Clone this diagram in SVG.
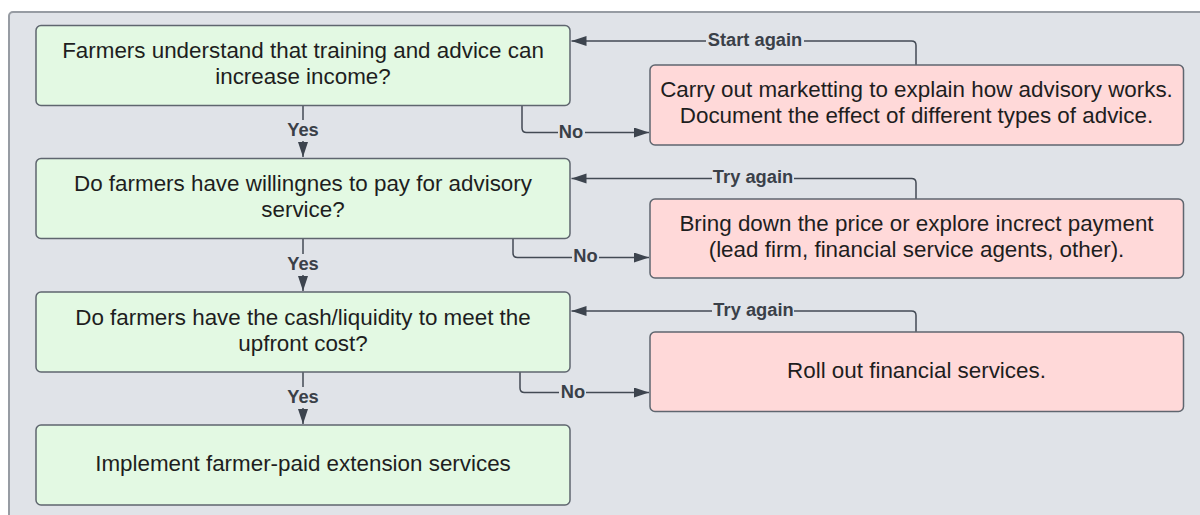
<svg xmlns="http://www.w3.org/2000/svg" width="1200" height="515" viewBox="0 0 1200 515">
  <defs>
    <style>
      .panel { fill: #e0e3e8; stroke: #979ca3; stroke-width: 2; }
      .yes { fill: #e3f9e3; stroke: #5f666f; stroke-width: 1.5; }
      .no { fill: #ffd9d9; stroke: #5f666f; stroke-width: 1.5; }
      .t { font-family: "Liberation Sans", Arial, sans-serif; font-size: 22.4px; fill: #1e1e1e; text-anchor: middle; }
      .c { fill: none; stroke: #434a54; stroke-width: 1.5; }
      .lbl { font-family: "Liberation Sans", Arial, sans-serif; font-size: 18.3px; font-weight: bold; fill: #3a4048; text-anchor: middle; }
      .lbg { fill: #e0e3e8; }
    </style>
    <marker id="ah" markerUnits="userSpaceOnUse" markerWidth="16" markerHeight="11" refX="15" refY="5" orient="auto">
      <path d="M0,0 L15,5 L0,10 z" fill="#3d444e"/>
    </marker>
  </defs>
  <rect width="1200" height="515" fill="#ffffff"/>
  <rect class="panel" x="9" y="12" width="1205" height="520" rx="4"/>

  <g id="connectors">
    <path class="c" d="M303 105.5 V157" marker-end="url(#ah)"/>
    <path class="c" d="M303 238.5 V291" marker-end="url(#ah)"/>
    <path class="c" d="M303 372 V424" marker-end="url(#ah)"/>
    <path class="c" d="M522 105.5 V128 Q522 132.5 526.5 132.5 H649" marker-end="url(#ah)"/>
    <path class="c" d="M513 238.5 V253 Q513 257.5 517.5 257.5 H649" marker-end="url(#ah)"/>
    <path class="c" d="M520 372 V388 Q520 392.5 524.5 392.5 H649" marker-end="url(#ah)"/>
    <path class="c" d="M916 65 V45.5 Q916 41 911.5 41 H571.5" marker-end="url(#ah)"/>
    <path class="c" d="M916 199 V183 Q916 178.5 911.5 178.5 H571.5" marker-end="url(#ah)"/>
    <path class="c" d="M916 332 V315.5 Q916 311 911.5 311 H571.5" marker-end="url(#ah)"/>
    <rect class="lbg" x="285" y="120" width="36" height="21"/>
    <text class="lbl" x="303" y="136">Yes</text>
    <rect class="lbg" x="285" y="254" width="36" height="21"/>
    <text class="lbl" x="303" y="269.5">Yes</text>
    <rect class="lbg" x="285" y="387" width="36" height="21"/>
    <text class="lbl" x="303" y="402.5">Yes</text>
    <rect class="lbg" x="558" y="122" width="27" height="20"/>
    <text class="lbl" x="571" y="137.5">No</text>
    <rect class="lbg" x="572" y="247" width="27" height="20"/>
    <text class="lbl" x="585.5" y="262">No</text>
    <rect class="lbg" x="559" y="382" width="27" height="20"/>
    <text class="lbl" x="573" y="397.5">No</text>
    <rect class="lbg" x="706" y="30" width="98" height="20"/>
    <text class="lbl" x="755" y="45.5">Start again</text>
    <rect class="lbg" x="712" y="168" width="82" height="20"/>
    <text class="lbl" x="753" y="183">Try again</text>
    <rect class="lbg" x="712" y="300" width="82" height="20"/>
    <text class="lbl" x="753.5" y="315.5">Try again</text>
  </g>

  <g id="q1">
    <rect class="yes" x="36" y="25.5" width="534" height="80" rx="5"/>
    <text class="t" x="303" y="57.5">Farmers understand that training and advice can</text>
    <text class="t" x="303" y="83.5">increase income?</text>
  </g>
  <g id="q2">
    <rect class="yes" x="36" y="158.5" width="534" height="80" rx="5"/>
    <text class="t" x="303" y="191">Do farmers have willingnes to pay for advisory</text>
    <text class="t" x="303" y="217">service?</text>
  </g>
  <g id="q3">
    <rect class="yes" x="36" y="292" width="534" height="80" rx="5"/>
    <text class="t" x="303" y="324.5">Do farmers have the cash/liquidity to meet the</text>
    <text class="t" x="303" y="350.5">upfront cost?</text>
  </g>
  <g id="q4">
    <rect class="yes" x="36" y="425" width="534" height="80" rx="5"/>
    <text class="t" x="303" y="471">Implement farmer-paid extension services</text>
  </g>
  <g id="a1">
    <rect class="no" x="650" y="65" width="533.5" height="80" rx="5"/>
    <text class="t" x="916.5" y="97">Carry out marketting to explain how advisory works.</text>
    <text class="t" x="916.5" y="123">Document the effect of different types of advice.</text>
  </g>
  <g id="a2">
    <rect class="no" x="650" y="199" width="533.5" height="79" rx="5"/>
    <text class="t" x="916.5" y="231">Bring down the price or explore increct payment</text>
    <text class="t" x="916.5" y="257">(lead firm, financial service agents, other).</text>
  </g>
  <g id="a3">
    <rect class="no" x="650" y="332" width="533.5" height="79.5" rx="5"/>
    <text class="t" x="916.5" y="378">Roll out financial services.</text>
  </g>
</svg>
